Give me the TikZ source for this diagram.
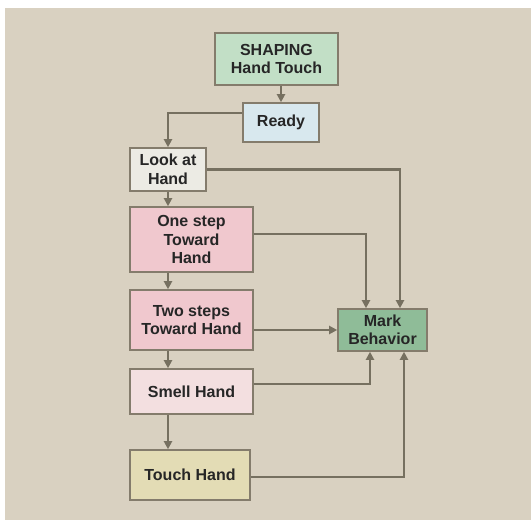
\documentclass[tikz,border=0pt]{standalone}
\usepackage{fontspec}
\setmainfont{Liberation Sans}
\usetikzlibrary{arrows.meta}

\definecolor{bgbeige}{HTML}{D9D1C1}
\definecolor{boxedge}{HTML}{847C6C}
\definecolor{linkgrey}{HTML}{767060}
\definecolor{mintfill}{HTML}{C2DFC6}
\definecolor{bluefill}{HTML}{D8E8EE}
\definecolor{greyfill}{HTML}{ECEBE4}
\definecolor{pinkfill}{HTML}{F0C8CE}
\definecolor{lightpink}{HTML}{F3DFE0}
\definecolor{khakifill}{HTML}{E3DCB5}
\definecolor{markfill}{HTML}{8FBC98}

\begin{document}
\begin{tikzpicture}[x=1pt,y=-1pt]
\tikzset{
  flowbox/.style={rectangle,draw=boxedge,line width=1.6pt,inner sep=1pt,align=center,
    font=\fontsize{16}{18.5}\selectfont\bfseries,text=black!85},
  flowlink/.style={draw=linkgrey,line width=2.6pt,-{Triangle[length=8pt,width=8pt]}}
}
\useasboundingbox (0,0) rectangle (531,520);
\fill[white] (0,0) rectangle (531,520);
\fill[bgbeige] (5,8) rectangle (540,530);
\node[flowbox,fill=mintfill,minimum width=123pt,minimum height=52pt] (n_shaping) at (276.5,59) {SHAPING\\Hand Touch};
\node[flowbox,fill=bluefill,minimum width=76pt,minimum height=39pt] (n_ready) at (281,122.5) {Ready};
\node[flowbox,fill=greyfill,minimum width=76pt,minimum height=43pt] (n_look) at (168,169.5) {Look at\\Hand};
\node[flowbox,fill=pinkfill,minimum width=123pt,minimum height=65pt] (n_one) at (191.5,239.5) {One step\\Toward\\Hand};
\node[flowbox,fill=pinkfill,minimum width=123pt,minimum height=60pt] (n_two) at (191.5,320) {Two steps\\Toward Hand};
\node[flowbox,fill=lightpink,minimum width=123pt,minimum height=45pt] (n_smell) at (191.5,391.5) {Smell Hand};
\node[flowbox,fill=khakifill,minimum width=120pt,minimum height=50pt] (n_touch) at (190,475) {Touch Hand};
\node[flowbox,fill=markfill,minimum width=89pt,minimum height=42pt] (n_mark) at (382.5,330) {Mark\\Behavior};
\draw[flowlink] (n_shaping.south -| n_ready.north) -- (n_ready.north);
\draw[flowlink] ([yshift=9.5pt]n_ready.west) -| (n_look.north);
\draw[flowlink] (n_look.south) -- (n_look.south |- n_one.north);
\draw[flowlink] (n_look.south |- n_one.south) -- (n_look.south |- n_two.north);
\draw[flowlink] (n_look.south |- n_two.south) -- (n_look.south |- n_smell.north);
\draw[flowlink] (n_look.south |- n_smell.south) -- (n_look.south |- n_touch.north);
\draw[flowlink] (n_look.east) -| ([xshift=17.5pt]n_mark.north);
\draw[flowlink] ([yshift=5.5pt]n_one.east) -| ([xshift=-16.5pt]n_mark.north);
\draw[flowlink] (n_two.east |- n_mark.west) -- (n_mark.west);
\draw[flowlink] ([yshift=7.5pt]n_smell.east) -| ([xshift=-12.5pt]n_mark.south);
\draw[flowlink] ([yshift=-2pt]n_touch.east) -| ([xshift=21.5pt]n_mark.south);
\end{tikzpicture}
\end{document}
